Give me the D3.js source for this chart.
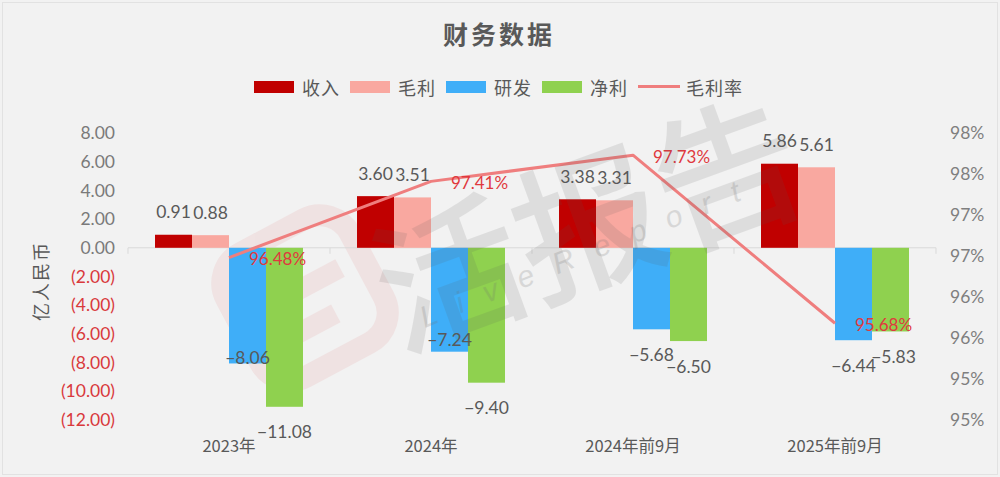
<!DOCTYPE html>
<html><head><meta charset="utf-8">
<script src="https://cdn.jsdelivr.net/npm/d3@7/dist/d3.min.js"></script>
<style>
html,body{margin:0;padding:0;background:#F2F2F2;}
svg{display:block;}
</style></head>
<body>
<script>
// ---- data ----
const title = "财务数据";
const yTitle = "亿人民币";
const categories = ["2023年", "2024年", "2024年前9月", "2025年前9月"];
const seriesNames = ["收入", "毛利", "研发", "净利"];
const revenue = [0.91, 3.60, 3.38, 5.86];
const grossProfit = [0.88, 3.51, 3.31, 5.61];
const rnd = [-8.06, -7.24, -5.68, -6.44];
const netProfit = [-11.08, -9.40, -6.50, -5.83];
const lineName = "毛利率";
const grossMargin = [96.48, 97.41, 97.73, 95.68];
const leftTicks = [8, 6, 4, 2, 0, -2, -4, -6, -8, -10, -12];
const rightTicks = [98, 97.5, 97, 96.5, 96, 95.5, 95, 94.5];

// ---- style / layout ----
const colors = {"收入": "#C00000", "毛利": "#F9A8A0", "研发": "#3FAEF8", "净利": "#8FD14F"};
const lineColor = "#EF7E7E";
const numFont = "Lato, 'Liberation Sans', sans-serif";
const cjkFont = "'Noto Sans CJK SC', sans-serif";
// negative labels drawn inside the bar end (as in reference)
const insideLabels = new Set(["研发|2023年", "研发|2024年"]);

const W = 1000, H = 477;
const svg = d3.select("body").append("svg").attr("width", W).attr("height", H);
svg.append("rect").attr("x", 0).attr("y", 0).attr("width", W).attr("height", H).attr("fill", "#F2F2F2");
svg.append("rect").attr("x", 2.5).attr("y", 2.5).attr("width", W - 5).attr("height", H - 5)
  .attr("fill", "none").attr("stroke", "#E2E2E2");

const seriesValues = {"收入": revenue, "毛利": grossProfit, "研发": rnd, "净利": netProfit};

const x = d3.scaleBand().domain(categories).range([128, 936]).paddingInner(0).paddingOuter(0);
const xs = d3.scaleBand().domain(seriesNames).range([0, x.bandwidth()]).paddingInner(0).paddingOuter(0.73);
const yL = d3.scaleLinear().domain([-12, 8]).range([420, 133]);
const yR = d3.scaleLinear().domain([94.5, 98]).range([420, 133]);

// title
svg.append("text").attr("x", 499).attr("y", 33).attr("text-anchor", "middle")
  .attr("dominant-baseline", "central").attr("font-family", cjkFont).attr("font-weight", 700)
  .attr("font-size", 25).attr("letter-spacing", 3).attr("fill", "#595959").text(title);

// legend
const legend = svg.append("g");
let lx = 254;
const legendItems = seriesNames.map(n => ({name: n, type: "bar"})).concat([{name: lineName, type: "line"}]);
legendItems.forEach(it => {
  if (it.type === "bar") {
    legend.append("rect").attr("x", lx).attr("y", 81).attr("width", 40).attr("height", 12).attr("fill", colors[it.name]);
  } else {
    legend.append("line").attr("x1", lx).attr("x2", lx + 42).attr("y1", 86.5).attr("y2", 86.5)
      .attr("stroke", lineColor).attr("stroke-width", 3);
  }
  const t = legend.append("text").attr("x", lx + 48).attr("y", 87).attr("dominant-baseline", "central")
    .attr("font-family", cjkFont).attr("font-size", 18).attr("fill", "#595959").attr("letter-spacing", 1).text(it.name);
  lx = lx + 48 + t.node().getComputedTextLength() + 10;
});

// watermark logo (behind)
const wm = svg.append("g").attr("pointer-events", "none");
const logo = wm.append("g").attr("transform", "translate(305,298) rotate(-28)").attr("opacity", 0.08);
logo.append("rect").attr("x", -70).attr("y", -70).attr("width", 140).attr("height", 140).attr("rx", 34)
  .attr("fill", "none").attr("stroke", "#D83030").attr("stroke-width", 22);
logo.append("line").attr("x1", -30).attr("x2", 45).attr("y1", -10).attr("y2", -10)
  .attr("stroke", "#D83030").attr("stroke-width", 20);
logo.append("line").attr("x1", -30).attr("x2", 20).attr("y1", 28).attr("y2", 28)
  .attr("stroke", "#D83030").attr("stroke-width", 20);

// zero line and boundary ticks
svg.append("line").attr("x1", 128).attr("x2", 936).attr("y1", yL(0)).attr("y2", yL(0))
  .attr("stroke", "#D9D9D9").attr("stroke-width", 1);
const bounds = categories.map(c => x(c)).concat([x.range()[1]]);
svg.append("g").selectAll("line").data(bounds).join("line")
  .attr("x1", d => d).attr("x2", d => d).attr("y1", yL(0)).attr("y2", yL(0) + 6)
  .attr("stroke", "#D9D9D9");

// bars
const barData = [];
seriesNames.forEach(n => categories.forEach((c, i) => barData.push({name: n, cat: c, v: seriesValues[n][i]})));
svg.append("g").selectAll("rect").data(barData).join("rect")
  .attr("x", d => x(d.cat) + xs(d.name))
  .attr("y", d => yL(Math.max(0, d.v)))
  .attr("width", xs.bandwidth())
  .attr("height", d => Math.abs(yL(d.v) - yL(0)))
  .attr("fill", d => colors[d.name]);

// bar labels
svg.append("g").selectAll("text").data(barData).join("text")
  .attr("x", d => x(d.cat) + xs(d.name) + xs.bandwidth() / 2 + (d.v < 0 && d.name === "净利" && d.cat === "2025年前9月" ? 3 : 0))
  .attr("y", d => {
    if (d.v >= 0) return yL(d.v) - 23;
    if (insideLabels.has(d.name + "|" + d.cat)) return yL(d.v) - (d.cat === "2024年" ? 12 : 6);
    return yL(d.v) + 25;
  })
  .attr("text-anchor", "middle").attr("dominant-baseline", "central")
  .attr("font-family", numFont).attr("font-size", 17.5).attr("fill", "#595959")
  .text(d => d.v < 0 ? "\u2212" + Math.abs(d.v).toFixed(2) : d.v.toFixed(2));

// line
const cx = c => x(c) + x.bandwidth() / 2;
const lineGen = d3.line().x((d, i) => cx(categories[i])).y(d => yR(d));
svg.append("path").datum(grossMargin).attr("d", lineGen).attr("fill", "none")
  .attr("stroke", lineColor).attr("stroke-width", 3).attr("stroke-linejoin", "round");
svg.append("g").selectAll("text").data(grossMargin).join("text")
  .attr("x", (d, i) => cx(categories[i]) + 20).attr("y", d => yR(d) + 1)
  .attr("dominant-baseline", "central").attr("font-family", numFont).attr("font-size", 17)
  .attr("fill", "#E0393E").text(d => d.toFixed(2) + "%");

// watermark text (over)
const wm2 = svg.append("g").attr("pointer-events", "none");
const wt = wm2.append("g").attr("transform", "translate(585,215) rotate(-20)").attr("opacity", 0.13);
wt.append("text").attr("text-anchor", "middle").attr("dominant-baseline", "central")
  .attr("font-family", cjkFont).attr("font-weight", 500).attr("font-size", 148).attr("fill", "#5A5A5A").text("活报告");
const wl = wm2.append("g").attr("transform", "translate(590,250) rotate(-22)").attr("opacity", 0.2);
wl.append("text").attr("text-anchor", "middle").attr("dominant-baseline", "central")
  .attr("font-family", "'Liberation Sans', sans-serif").attr("font-style", "italic").attr("font-size", 30)
  .attr("letter-spacing", 22).attr("fill", "#707070").text("LiveReport");

// left axis
const axL = svg.append("g").attr("transform", "translate(128,0)")
  .call(d3.axisLeft(yL).tickValues(leftTicks).tickSize(0).tickPadding(13)
    .tickFormat(d => d < 0 ? "(" + Math.abs(d).toFixed(2) + ")" : d.toFixed(2)));
axL.select(".domain").remove();
axL.selectAll("text").attr("font-family", numFont).attr("font-size", 17.5)
  .attr("fill", d => d < 0 ? "#D9393C" : "#7A7A7A");

// right axis
const axR = svg.append("g").attr("transform", "translate(936,0)")
  .call(d3.axisRight(yR).tickValues(rightTicks).tickSize(0).tickPadding(14)
    .tickFormat(d => Math.round(d) + "%"));
axR.select(".domain").remove();
axR.selectAll("text").attr("font-family", numFont).attr("font-size", 17.5).attr("fill", "#7F7F7F");

// x axis labels
const axX = svg.append("g").attr("transform", "translate(0,437)")
  .call(d3.axisBottom(x).tickSize(0).tickPadding(3));
axX.select(".domain").remove();
axX.selectAll("text").attr("font-family", cjkFont).attr("font-size", 16.5).attr("fill", "#595959");

// y title
svg.append("text").attr("transform", "translate(40,281) rotate(-90)").attr("text-anchor", "middle")
  .attr("dominant-baseline", "central").attr("font-family", cjkFont).attr("font-size", 18)
  .attr("letter-spacing", 2).attr("fill", "#595959").text(yTitle);
</script>
</body></html>
